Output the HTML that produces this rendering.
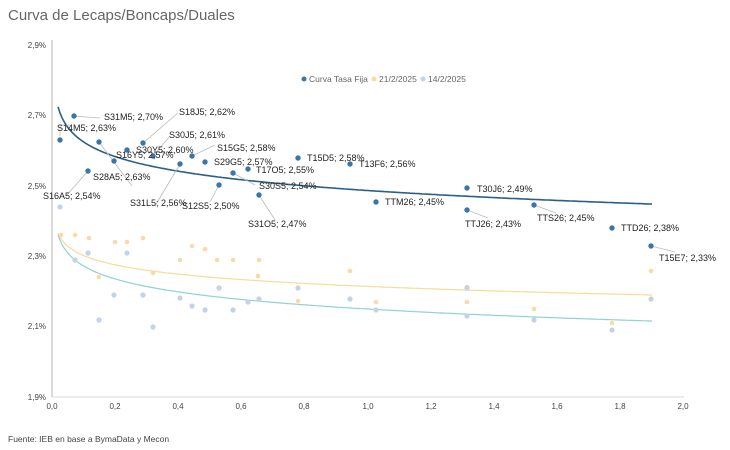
<!DOCTYPE html><html><head><style>body{margin:0;background:#fff}svg{display:block}text{font-family:"Liberation Sans",sans-serif}</style></head><body>
<svg width="730" height="450" xmlns="http://www.w3.org/2000/svg">
<text x="8" y="20" font-size="15" fill="#666">Curva de Lecaps/Boncaps/Duales</text>
<line x1="52" y1="40" x2="52" y2="397" stroke="#d9d9d9" stroke-width="2"/>
<line x1="52" y1="397" x2="684" y2="397" stroke="#d9d9d9" stroke-width="1"/>
<g font-size="8" fill="#444" text-anchor="end">
<text x="46" y="48">2,9%</text><text x="46" y="118">2,7%</text><text x="46" y="189">2,5%</text><text x="46" y="259">2,3%</text><text x="46" y="329">2,1%</text><text x="46" y="400">1,9%</text></g>
<g font-size="8" fill="#444" text-anchor="middle">
<text x="52" y="409">0,0</text><text x="115" y="409">0,2</text><text x="178" y="409">0,4</text><text x="241" y="409">0,6</text><text x="304" y="409">0,8</text><text x="368" y="409">1,0</text><text x="431" y="409">1,2</text><text x="494" y="409">1,4</text><text x="557" y="409">1,6</text><text x="620" y="409">1,8</text><text x="683" y="409">2,0</text></g>
<text x="8" y="442" font-size="8.5" fill="#444">Fuente: IEB en base a BymaData y Mecon</text>
<g font-size="8.5" fill="#666"><circle cx="304" cy="79" r="2.5" fill="#3a77a8"/><text x="309" y="82">Curva Tasa Fija</text>
<circle cx="374" cy="79" r="2.5" fill="#fcd9a8"/><text x="379" y="82">21/2/2025</text>
<circle cx="423" cy="79" r="2.5" fill="#c3d1ea"/><text x="428" y="82">14/2/2025</text></g>
<path id="t1" fill="none" stroke="#2d5f86" stroke-width="1.6"/>
<path id="t2" fill="none" stroke="#f6dc96" stroke-width="1.2"/>
<path id="t3" fill="none" stroke="#8fd2d2" stroke-width="1.2"/>
<g id="y" fill="#fcd9a8"></g><g id="tl" fill="#c3d1ea"></g>
<g stroke="#bbb" stroke-width="0.8" fill="none">
<polyline points="60,136 60,125 70,125"/><polyline points="74,116 100,118"/><polyline points="143,143 178,113"/><polyline points="153,156 170,136"/>
<polyline points="99,142 132,186"/><polyline points="88,171 66,196"/><polyline points="180,164 155,206"/><polyline points="192,156 215,145"/>
<polyline points="219,185 210,202"/><polyline points="233,173 255,185"/><polyline points="259,195 275,220"/><polyline points="467,210 488,218"/><polyline points="534,205 556,213"/><polyline points="651,246 675,252"/>
</g>
<g id="b" fill="#3a77a8"></g>
<g font-size="9" fill="#222">
<text x="104" y="120">S31M5; 2,70%</text><text x="57" y="131">S14M5; 2,63%</text><text x="179" y="115">S18J5; 2,62%</text><text x="169" y="138">S30J5; 2,61%</text>
<text x="136" y="153">S30Y5; 2,60%</text><text x="116" y="158">S16Y5; 2,57%</text><text x="217" y="151">S15G5; 2,58%</text><text x="214" y="165">S29G5; 2,57%</text>
<text x="256" y="173">T17O5; 2,55%</text><text x="307" y="161">T15D5; 2,58%</text><text x="359" y="167">T13F6; 2,56%</text><text x="259" y="189">S30S5; 2,54%</text>
<text x="93" y="180">S28A5; 2,63%</text><text x="43" y="199">S16A5; 2,54%</text><text x="130" y="206">S31L5; 2,56%</text><text x="182" y="209">S12S5; 2,50%</text>
<text x="248" y="227">S31O5; 2,47%</text><text x="385" y="205">TTM26; 2,45%</text><text x="477" y="192">T30J6; 2,49%</text><text x="465" y="227">TTJ26; 2,43%</text>
<text x="537" y="221">TTS26; 2,45%</text><text x="621" y="231">TTD26; 2,38%</text><text x="659" y="261">T15E7; 2,33%</text></g>
</svg>
<script>
function tr(id,a,b){let d="";for(let px=58;px<=652;px+=2){let x=(px-52)/315.5;let y=a+b*Math.log(x);d+=(px==58?"M":"L")+px+","+y.toFixed(1);}document.getElementById(id).setAttribute("d",d);}
tr("t1",190.5,21.1);tr("t2",286.4,13.4);tr("t3",309,18.7);
function dots(id,pts,r){let g=document.getElementById(id);for(let i=0;i<pts.length;i+=2){let c=document.createElementNS("http://www.w3.org/2000/svg","circle");c.setAttribute("cx",pts[i]);c.setAttribute("cy",pts[i+1]);c.setAttribute("r",r);g.appendChild(c);}}
dots("y",[61,235,75,235,89,238,115,242,127,242,143,238,99,277,153,273,180,260,192,246,205,249,217,260,233,260,259,260,258,276,298,301,350,271,376,302,467,302,467,287,534,309,612,323,651,271],2.3);
dots("tl",[60,207,75,260,88,253,99,320,114,295,127,253,143,295,153,327,180,298,192,306,205,310,219,288,233,310,248,302,259,299,298,288,350,299,376,310,467,288,467,316,534,320,612,330,651,299],2.6);
dots("b",[60,140,74,116,99,142,114,161,88,171,127,150,143,143,153,156,180,164,192,156,205,162,219,185,233,173,248,169,259,195,298,158,350,164,376,202,467,188,467,210,534,205,612,228,651,246],2.7);
</script>
</body></html>
